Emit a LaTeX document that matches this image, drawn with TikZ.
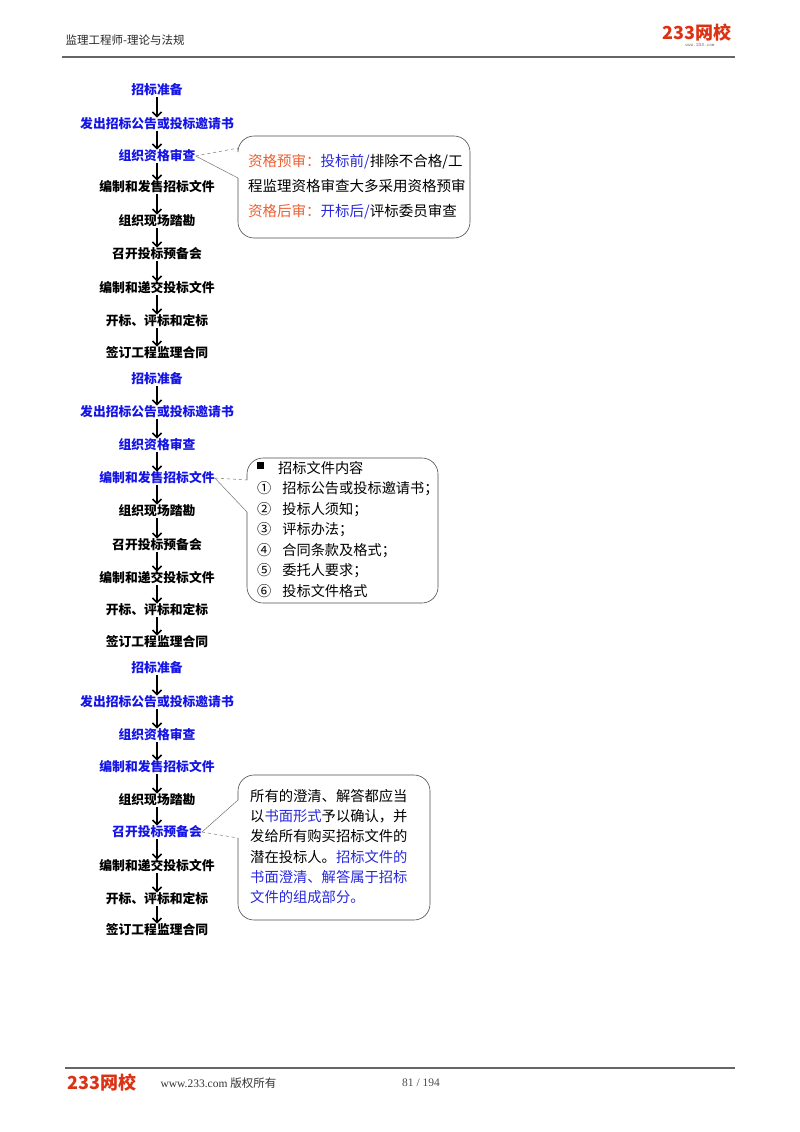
\documentclass[tikz,border=0pt]{standalone}
\usepackage{fontspec}
\usetikzlibrary{arrows.meta}
\setmainfont{Liberation Serif}
\newfontfamily\cjk{Noto Sans CJK SC}
\definecolor{fblue}{RGB}{20,20,230}
\definecolor{corange}{RGB}{235,95,50}
\definecolor{cblue}{RGB}{40,40,220}
\definecolor{lred}{RGB}{220,50,20}
\begin{document}
\begin{tikzpicture}[x=1pt,y=-1pt,
  flow/.style={font=\cjk\bfseries\fontsize{12.8}{14}\selectfont,inner sep=0pt,anchor=center},
  fb/.style={flow,text=fblue},
  fk/.style={flow,text=black},
  arr/.style={-{Straight Barb[length=4.5pt,width=9pt,line width=1.6pt]},line width=1.6pt,shorten <=1pt,shorten >=0pt},
  callout/.style={draw=black!70,line width=0.6pt,rounded corners=16pt},
  ptr/.style={draw=black!55,line width=0.5pt},
  ctext/.style={font=\cjk\fontsize{14.5}{25}\selectfont,align=left,anchor=north west,inner sep=0pt}]
\useasboundingbox (0,0) rectangle (800,1132);
% header
\node[font=\cjk\fontsize{11.5}{13}\selectfont,anchor=west,text=black!85] (hd) at (62,40) {监理工程师-理论与法规};
\node[font=\cjk\bfseries\fontsize{18}{18}\selectfont,text=lred,anchor=east] (lg) at (735,33) {233网校};
\node[font=\ttfamily\fontsize{5}{5}\selectfont,text=black!60] (lgu) at (700,45) {www.233.com};
\draw[black!60,line width=1.5pt] (62,57) -- (735,57);
% footer
\draw[black!60,line width=1.5pt] (65,1068) -- (735,1068);
\node[font=\cjk\bfseries\fontsize{18}{18}\selectfont,text=lred,anchor=west] (flg) at (64,1083) {233网校};
\node[font=\fontsize{11.5}{13}\selectfont,anchor=west,text=black!80] (fu) at (157,1083) {www.233.com {\cjk 版权所有}};
\node[font=\fontsize{11.5}{13}\selectfont,text=black!70] (pg) at (421,1083) {81 / 194};
% set a
\node[fb] (a1) at (157,90) {招标准备};
\node[fb] (a2) at (157,124) {发出招标公告或投标邀请书};
\node[fb] (a3) at (157,156) {组织资格审查};
\node[fk] (a4) at (157,187) {编制和发售招标文件};
\node[fk] (a5) at (157,221) {组织现场踏勘};
\node[fk] (a6) at (157,254) {召开投标预备会};
\node[fk] (a7) at (157,288) {编制和递交投标文件};
\node[fk] (a8) at (157,321) {开标、评标和定标};
\node[fk] (a9) at (157,353) {签订工程监理合同};
% set b
\node[fb] (b1) at (157,379) {招标准备};
\node[fb] (b2) at (157,412) {发出招标公告或投标邀请书};
\node[fb] (b3) at (157,445) {组织资格审查};
\node[fb] (b4) at (157,478) {编制和发售招标文件};
\node[fk] (b5) at (157,511) {组织现场踏勘};
\node[fk] (b6) at (157,545) {召开投标预备会};
\node[fk] (b7) at (157,578) {编制和递交投标文件};
\node[fk] (b8) at (157,610) {开标、评标和定标};
\node[fk] (b9) at (157,642) {签订工程监理合同};
% set c
\node[fb] (c1) at (157,668) {招标准备};
\node[fb] (c2) at (157,702) {发出招标公告或投标邀请书};
\node[fb] (c3) at (157,735) {组织资格审查};
\node[fb] (c4) at (157,767) {编制和发售招标文件};
\node[fk] (c5) at (157,800) {组织现场踏勘};
\node[fb] (c6) at (157,832) {召开投标预备会};
\node[fk] (c7) at (157,866) {编制和递交投标文件};
\node[fk] (c8) at (157,899) {开标、评标和定标};
\node[fk] (c9) at (157,930) {签订工程监理合同};
\foreach \s in {a,b,c}{
  \foreach \i [evaluate=\i as \j using int(\i+1)] in {1,...,8}{
    \draw[arr] (\s\i.south) -- (\s\j.north);
  }
}
% callout 1
\draw[callout] (238,148) -- (238,136) -- (470,136) -- (470,238) -- (238,238) -- (238,178);
\draw[ptr,dashed] (a3.east) -- (238,148);
\draw[ptr] (a3.east) -- (238,178);
\node[ctext] (t1) at (248,154) {{\color{corange}资格预审：}{\color{cblue}投标前/}排除不合格/工\\程监理资格审查大多采用资格预审\\{\color{corange}资格后审：}{\color{cblue}开标后/}评标委员审查};
% callout 2
\draw[callout] (247,480) -- (247,458) -- (438,458) -- (438,603) -- (247,603) -- (247,512);
\draw[ptr,dashed] (b4.east) -- (247,480);
\draw[ptr] (b4.east) -- (247,512);
\node[ctext,font=\cjk\fontsize{14.2}{20.5}\selectfont] (t2) at (257,461) {\rule[0.5ex]{7pt}{7pt}\hspace{14pt}招标文件内容\\①\hspace{11pt}招标公告或投标邀请书；\\②\hspace{11pt}投标人须知；\\③\hspace{11pt}评标办法；\\④\hspace{11pt}合同条款及格式；\\⑤\hspace{11pt}委托人要求；\\⑥\hspace{11pt}投标文件格式};
% callout 3
\draw[callout] (238,800) -- (238,775) -- (430,775) -- (430,920) -- (238,920) -- (238,838);
\draw[ptr,dashed] (c6.east) -- (238,838);
\draw[ptr] (c6.east) -- (238,800);
\node[ctext,font=\cjk\fontsize{14.3}{20.3}\selectfont] (t3) at (250,789) {所有的澄清、解答都应当\\以{\color{cblue}书面形式}予以确认，并\\发给所有购买招标文件的\\潜在投标人。{\color{cblue}招标文件的}\\{\color{cblue}书面澄清、解答属于招标}\\{\color{cblue}文件的组成部分。}};
\end{tikzpicture}
\end{document}
